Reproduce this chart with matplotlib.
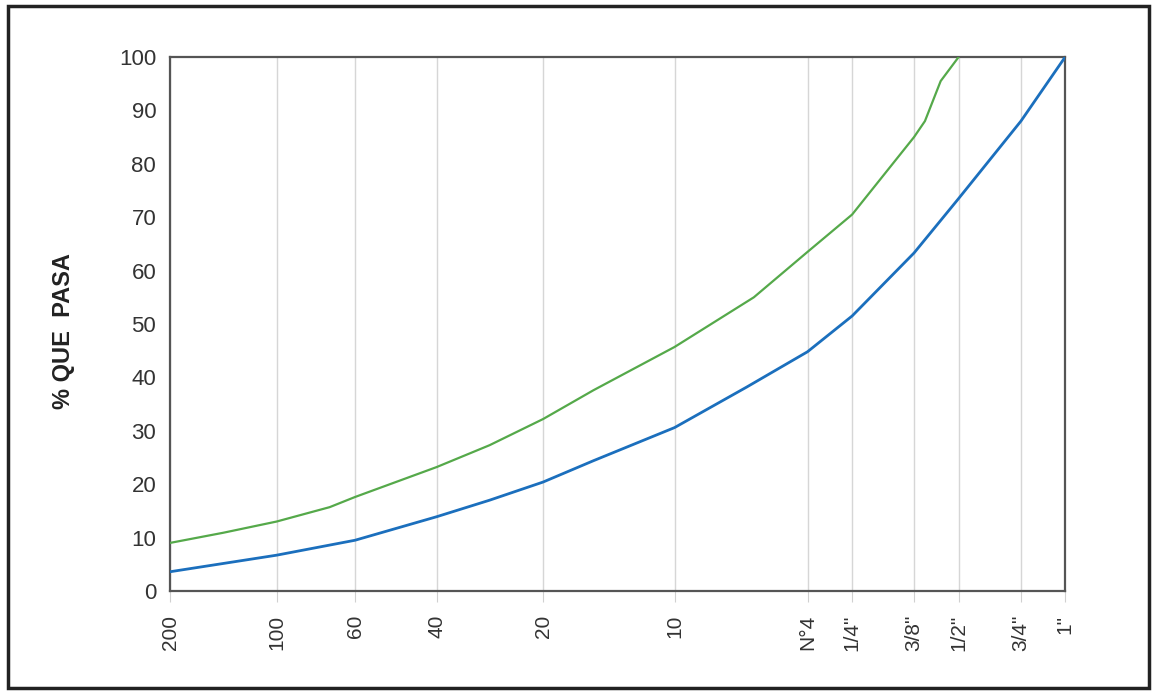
import matplotlib
matplotlib.use("Agg")
import matplotlib.pyplot as plt
from matplotlib.patches import Rectangle

plt.rcParams['font.family'] = ['Liberation Sans', 'DejaVu Sans']

# Sieve openings (mm) and their labels
sieve_mm = [0.075, 0.15, 0.25, 0.425, 0.85, 2.0, 4.75, 6.35, 9.5, 12.7, 19.05, 25.4]
sieve_labels = ['200', '100', '60', '40', '20', '10', 'N°4', '1/4"', '3/8"', '1/2"', '3/4"', '1"']

# Upper limit curve (green), size in mm -> % passing
green_mm = [0.075, 0.106, 0.15, 0.212, 0.25, 0.425, 0.6, 0.85, 1.18, 2.0,
            3.35, 4.75, 6.35, 9.5, 10.2, 11.3, 12.7]
green_pct = [9.0, 10.9, 13.0, 15.7, 17.6, 23.2, 27.3, 32.2, 37.6, 45.7,
             55.0, 63.5, 70.5, 85.0, 88.0, 95.5, 100.0]

# Lower limit curve (blue)
blue_mm = [0.075, 0.15, 0.25, 0.425, 0.6, 0.85, 1.18, 2.0, 3.2, 4.75,
           6.35, 9.5, 12.7, 19.05, 25.4]
blue_pct = [3.6, 6.7, 9.5, 13.9, 17.0, 20.4, 24.4, 30.6, 38.2, 44.8,
            51.5, 63.3, 73.5, 88.0, 100.0]

fig = plt.figure(figsize=(11.52, 6.92), dpi=100)
ax = fig.add_axes([0.1476, 0.146, 0.777, 0.7716])

ax.plot(green_mm, green_pct, color='#55a94a', linewidth=1.6, zorder=3)
ax.plot(blue_mm, blue_pct, color='#1b6fbd', linewidth=2.0, zorder=3)

ax.set_xscale('log')
ax.set_xlim(0.075, 25.4)
ax.set_ylim(0, 100)
ax.minorticks_off()

ax.set_xticks(sieve_mm)
ax.set_xticklabels(sieve_labels, rotation=90, fontsize=15, color='#333333')
ax.set_yticks(range(0, 101, 10))
ax.set_yticklabels([str(v) for v in range(0, 101, 10)], fontsize=16, color='#333333')

ax.tick_params(axis='x', length=8, color='#d0d0d0', pad=9)
ax.tick_params(axis='y', length=0, pad=10)
ax.grid(True, axis='x', color='#d6d6d6', linewidth=1.0)
ax.grid(False, axis='y')

for side in ax.spines.values():
    side.set_color('#555555')
    side.set_linewidth(1.6)

fig.text(0.0555, 0.522, '% QUE  PASA', rotation=90, fontsize=17, fontweight='bold',
         ha='center', va='center', color='#222222')

# Outer frame around the whole figure
fig.patches.append(Rectangle((0.007, 0.006), 0.990, 0.986, transform=fig.transFigure,
                             fill=False, edgecolor='#222222', linewidth=2.5))

fig.savefig('out.png', dpi=100)
